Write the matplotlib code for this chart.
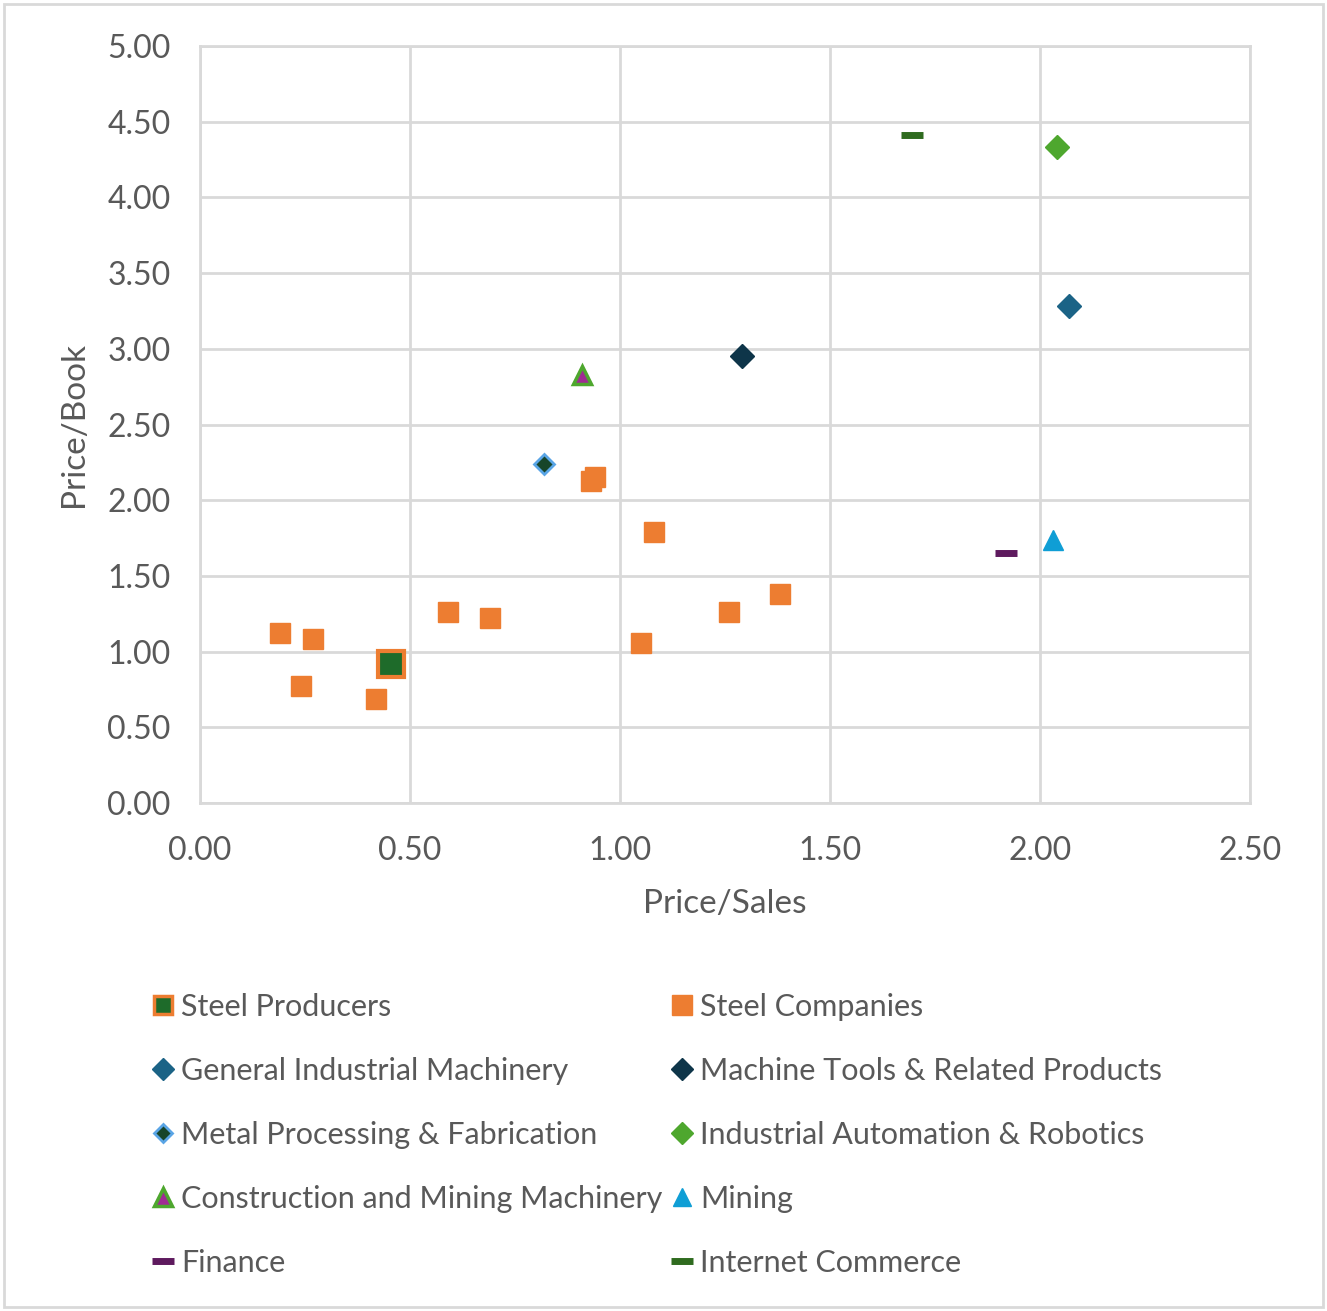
import matplotlib.pyplot as plt
from matplotlib.lines import Line2D
from matplotlib.patches import Rectangle

plt.rcParams['font.family'] = ['Lato', 'DejaVu Sans']

# price/sales, price/book per group
steel_producers_x = [0.455]
steel_producers_y = [0.92]

steel_companies_x = [0.19, 0.27, 0.24, 0.42, 0.59, 0.69, 0.93, 0.94, 1.08, 1.05, 1.26, 1.38]
steel_companies_y = [1.12, 1.08, 0.77, 0.69, 1.26, 1.22, 2.13, 2.15, 1.79, 1.06, 1.26, 1.38]

general_machinery_x = [2.07]
general_machinery_y = [3.28]

machine_tools_x = [1.29]
machine_tools_y = [2.95]

metal_processing_x = [0.82]
metal_processing_y = [2.24]

automation_x = [2.04]
automation_y = [4.33]

construction_x = [0.91]
construction_y = [2.83]

mining_x = [2.03]
mining_y = [1.74]

finance_x = [1.92]
finance_y = [1.65]

internet_x = [1.695]
internet_y = [4.41]

fig = plt.figure(figsize=(13.27, 13.11), dpi=100)
ax = fig.add_axes([0.1507, 0.3875, 0.7913, 0.5774])

h = {}
ax.plot(steel_producers_x, steel_producers_y, 's', ms=19, mfc='#1E6B2A', mec='#ED7D31', mew=3, zorder=4)
# smaller key for the legend
h['Steel Producers'] = Line2D([], [], ls='none', marker='s', ms=13.5, mfc='#1E6B2A', mec='#ED7D31', mew=2.5)
h['Steel Companies'] = ax.plot(steel_companies_x, steel_companies_y, 's', ms=15, color='#ED7D31', zorder=3)[0]
h['General Industrial Machinery'] = ax.plot(general_machinery_x, general_machinery_y, 'D', ms=12,
                                            color='#1B6386', zorder=3)[0]
h['Machine Tools & Related Products'] = ax.plot(machine_tools_x, machine_tools_y, 'D', ms=12,
                                                color='#0E3549', zorder=3)[0]
h['Metal Processing & Fabrication'] = ax.plot(metal_processing_x, metal_processing_y, 'D', ms=10,
                                              mfc='#17452A', mec='#5AA5E6', mew=2, zorder=3)[0]
h['Industrial Automation & Robotics'] = ax.plot(automation_x, automation_y, 'D', ms=12,
                                                color='#4EA72E', zorder=3)[0]
h['Construction and Mining Machinery'] = ax.plot(construction_x, construction_y, '^', ms=13,
                                                 mfc='#A02B93', mec='#4EA72E', mew=2.5, zorder=3)[0]
h['Mining'] = ax.plot(mining_x, mining_y, '^', ms=14, color='#0F9ED5', zorder=3)[0]
h['Finance'] = ax.plot(finance_x, finance_y, '_', ms=16, mew=5, color='#5E1A5E', zorder=3)[0]
h['Internet Commerce'] = ax.plot(internet_x, internet_y, '_', ms=16, mew=5, color='#2F6B1F', zorder=3)[0]

ax.set_xlim(0, 2.5)
ax.set_ylim(0, 5)
ax.set_xticks([0, 0.5, 1.0, 1.5, 2.0, 2.5])
ax.set_yticks([i * 0.5 for i in range(11)])
ax.xaxis.set_major_formatter(lambda v, p: f'{v:.2f}')
ax.yaxis.set_major_formatter(lambda v, p: f'{v:.2f}')
ax.tick_params(length=0, labelsize=23, labelcolor='#595959')
ax.tick_params(axis='x', pad=24)
ax.tick_params(axis='y', pad=21)
ax.grid(True, color='#D9D9D9', lw=2)
ax.set_axisbelow(True)
for s in ax.spines.values():
    s.set_color('#D9D9D9')
    s.set_linewidth(2)

ax.set_xlabel('Price/Sales', fontsize=24, color='#595959', labelpad=16)
ax.set_ylabel('Price/Book', fontsize=24, color='#595959', labelpad=13)

# two columns, filled row by row
order = ['Steel Producers', 'General Industrial Machinery', 'Metal Processing & Fabrication',
         'Construction and Mining Machinery', 'Finance',
         'Steel Companies', 'Machine Tools & Related Products', 'Industrial Automation & Robotics',
         'Mining', 'Internet Commerce']
leg = fig.legend([h[k] for k in order], order, ncol=2, loc='upper left',
                 bbox_to_anchor=(0.1145, 0.2426), frameon=False, fontsize=22,
                 labelcolor='#595959', handlelength=0.7, handletextpad=0.26,
                 columnspacing=0.27, labelspacing=1.18, markerscale=0.95,
                 borderpad=0, borderaxespad=0)

fig.patches.append(Rectangle((0.003, 0.003), 0.994, 0.994, transform=fig.transFigure,
                             fill=False, ec='#D9D9D9', lw=2))

fig.savefig('out.png', dpi=100)
